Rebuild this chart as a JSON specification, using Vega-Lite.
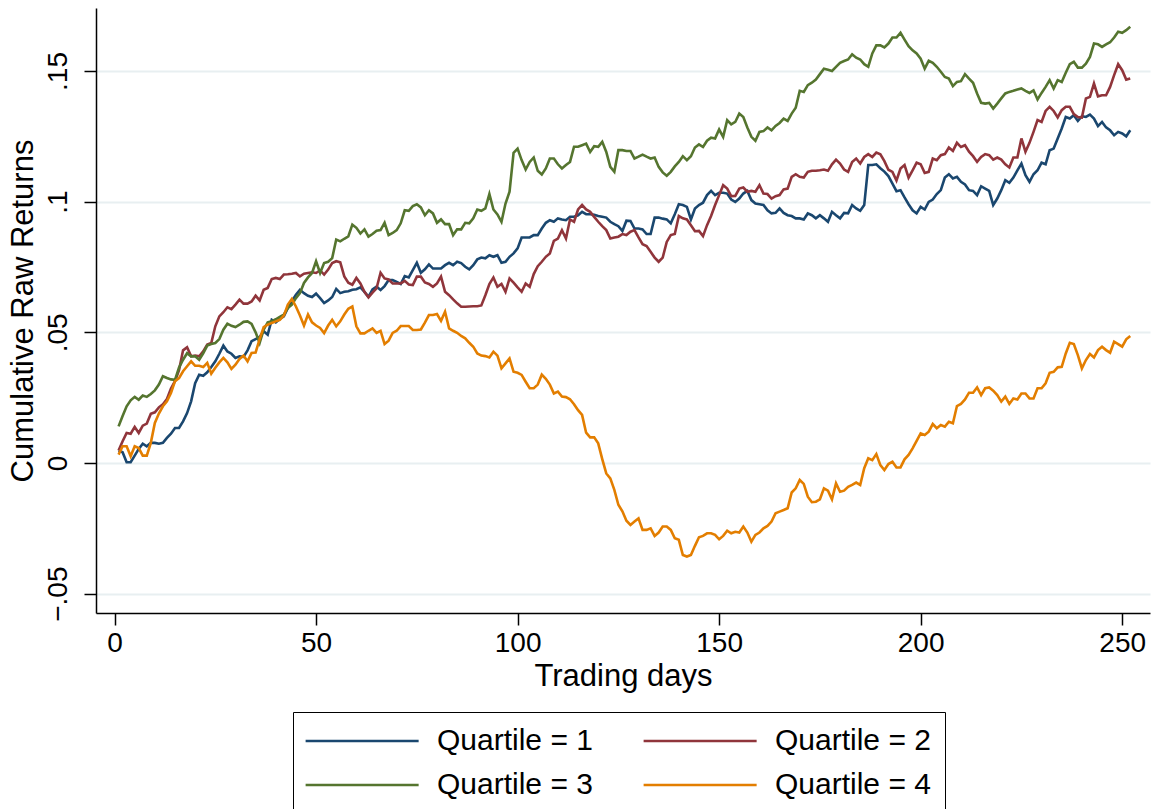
{
"$schema":"https://vega.github.io/schema/vega-lite/v6.json",
"width":1054,"height":605,
"autosize":{"type":"none"},
"padding":{"left":96,"top":8,"right":6,"bottom":196},
"background":"white",
"config":{"view":{"stroke":null},"font":"Liberation Sans"},
"data":{"values":[
{"d":1,"q1":0.0048,"q2":0.0048,"q3":0.014,"q4":0.0032},
{"d":2,"q1":0.0041,"q2":0.0083,"q3":0.018,"q4":0.0064},
{"d":3,"q1":0.0003,"q2":0.0115,"q3":0.0217,"q4":0.0064},
{"d":4,"q1":0.0003,"q2":0.0112,"q3":0.024,"q4":0.0026},
{"d":5,"q1":0.0028,"q2":0.0138,"q3":0.0253,"q4":0.0064},
{"d":6,"q1":0.0054,"q2":0.0115,"q3":0.0242,"q4":0.0057},
{"d":7,"q1":0.0074,"q2":0.0143,"q3":0.0258,"q4":0.0028},
{"d":8,"q1":0.0064,"q2":0.0151,"q3":0.0253,"q4":0.0028},
{"d":9,"q1":0.0077,"q2":0.0188,"q3":0.0264,"q4":0.0077},
{"d":10,"q1":0.0077,"q2":0.0194,"q3":0.0278,"q4":0.0153},
{"d":11,"q1":0.0074,"q2":0.0213,"q3":0.03,"q4":0.0189},
{"d":12,"q1":0.0077,"q2":0.0225,"q3":0.0332,"q4":0.0217},
{"d":13,"q1":0.0096,"q2":0.0245,"q3":0.0325,"q4":0.0236},
{"d":14,"q1":0.0112,"q2":0.0285,"q3":0.032,"q4":0.0268},
{"d":15,"q1":0.0134,"q2":0.0313,"q3":0.0318,"q4":0.0313},
{"d":16,"q1":0.0134,"q2":0.0355,"q3":0.0365,"q4":0.0325},
{"d":17,"q1":0.0159,"q2":0.0431,"q3":0.0395,"q4":0.0351},
{"d":18,"q1":0.0191,"q2":0.0443,"q3":0.042,"q4":0.037},
{"d":19,"q1":0.0236,"q2":0.0408,"q3":0.0408,"q4":0.0389},
{"d":20,"q1":0.0305,"q2":0.0411,"q3":0.0408,"q4":0.0372},
{"d":21,"q1":0.0338,"q2":0.0408,"q3":0.0395,"q4":0.0372},
{"d":22,"q1":0.0334,"q2":0.0427,"q3":0.042,"q4":0.0367},
{"d":23,"q1":0.0347,"q2":0.0453,"q3":0.0449,"q4":0.0383},
{"d":24,"q1":0.0367,"q2":0.0459,"q3":0.0455,"q4":0.0342},
{"d":25,"q1":0.0389,"q2":0.0523,"q3":0.0459,"q4":0.0364},
{"d":26,"q1":0.0418,"q2":0.0561,"q3":0.0474,"q4":0.0385},
{"d":27,"q1":0.0449,"q2":0.0577,"q3":0.051,"q4":0.0402},
{"d":28,"q1":0.0427,"q2":0.0596,"q3":0.0533,"q4":0.0385},
{"d":29,"q1":0.0418,"q2":0.0589,"q3":0.0525,"q4":0.036},
{"d":30,"q1":0.0402,"q2":0.0606,"q3":0.052,"q4":0.0376},
{"d":31,"q1":0.0408,"q2":0.0625,"q3":0.0529,"q4":0.0398},
{"d":32,"q1":0.0406,"q2":0.061,"q3":0.054,"q4":0.0411},
{"d":33,"q1":0.0431,"q2":0.061,"q3":0.0542,"q4":0.0389},
{"d":34,"q1":0.0466,"q2":0.0618,"q3":0.0532,"q4":0.0421},
{"d":35,"q1":0.0474,"q2":0.064,"q3":0.05,"q4":0.0423},
{"d":36,"q1":0.0482,"q2":0.0622,"q3":0.0459,"q4":0.0474},
{"d":37,"q1":0.0504,"q2":0.0663,"q3":0.051,"q4":0.052},
{"d":38,"q1":0.0491,"q2":0.067,"q3":0.0538,"q4":0.0529},
{"d":39,"q1":0.0548,"q2":0.0704,"q3":0.0542,"q4":0.0536},
{"d":40,"q1":0.0538,"q2":0.0708,"q3":0.055,"q4":0.0542},
{"d":41,"q1":0.0551,"q2":0.0704,"q3":0.0559,"q4":0.0548},
{"d":42,"q1":0.0561,"q2":0.0721,"q3":0.0568,"q4":0.0564},
{"d":43,"q1":0.0593,"q2":0.0722,"q3":0.0593,"q4":0.0606},
{"d":44,"q1":0.0619,"q2":0.0724,"q3":0.0606,"q4":0.0628},
{"d":45,"q1":0.0644,"q2":0.0727,"q3":0.0631,"q4":0.0599},
{"d":46,"q1":0.0663,"q2":0.0714,"q3":0.065,"q4":0.0564},
{"d":47,"q1":0.065,"q2":0.0724,"q3":0.0689,"q4":0.0526},
{"d":48,"q1":0.064,"q2":0.0727,"q3":0.071,"q4":0.0568},
{"d":49,"q1":0.0635,"q2":0.073,"q3":0.0727,"q4":0.0538},
{"d":50,"q1":0.0648,"q2":0.0727,"q3":0.0772,"q4":0.0526},
{"d":51,"q1":0.0631,"q2":0.0737,"q3":0.0727,"q4":0.0517},
{"d":52,"q1":0.0612,"q2":0.0721,"q3":0.0765,"q4":0.0497},
{"d":53,"q1":0.0622,"q2":0.074,"q3":0.077,"q4":0.0526},
{"d":54,"q1":0.0635,"q2":0.0765,"q3":0.0784,"q4":0.0548},
{"d":55,"q1":0.0666,"q2":0.0772,"q3":0.0855,"q4":0.0523},
{"d":56,"q1":0.065,"q2":0.0768,"q3":0.0848,"q4":0.0542},
{"d":57,"q1":0.0655,"q2":0.0714,"q3":0.0858,"q4":0.0568},
{"d":58,"q1":0.0657,"q2":0.069,"q3":0.0867,"q4":0.059},
{"d":59,"q1":0.0663,"q2":0.0682,"q3":0.0912,"q4":0.0599},
{"d":60,"q1":0.0665,"q2":0.0708,"q3":0.09,"q4":0.0523},
{"d":61,"q1":0.0672,"q2":0.0687,"q3":0.0878,"q4":0.0496},
{"d":62,"q1":0.0655,"q2":0.0655,"q3":0.0894,"q4":0.0496},
{"d":63,"q1":0.0636,"q2":0.0634,"q3":0.0866,"q4":0.0506},
{"d":64,"q1":0.0664,"q2":0.0652,"q3":0.0876,"q4":0.0515},
{"d":65,"q1":0.0675,"q2":0.0668,"q3":0.0889,"q4":0.0498},
{"d":66,"q1":0.0662,"q2":0.0728,"q3":0.0891,"q4":0.0506},
{"d":67,"q1":0.0677,"q2":0.0706,"q3":0.0919,"q4":0.0455},
{"d":68,"q1":0.07,"q2":0.0702,"q3":0.0872,"q4":0.0468},
{"d":69,"q1":0.07,"q2":0.0687,"q3":0.088,"q4":0.0498},
{"d":70,"q1":0.0693,"q2":0.0687,"q3":0.0891,"q4":0.0506},
{"d":71,"q1":0.0685,"q2":0.0687,"q3":0.0917,"q4":0.0524},
{"d":72,"q1":0.0715,"q2":0.0697,"q3":0.0967,"q4":0.0524},
{"d":73,"q1":0.071,"q2":0.0683,"q3":0.0965,"q4":0.0524},
{"d":74,"q1":0.0738,"q2":0.0681,"q3":0.0983,"q4":0.0509},
{"d":75,"q1":0.0766,"q2":0.0713,"q3":0.099,"q4":0.0509},
{"d":76,"q1":0.0728,"q2":0.0713,"q3":0.0978,"q4":0.0511},
{"d":77,"q1":0.0741,"q2":0.0691,"q3":0.0948,"q4":0.0537},
{"d":78,"q1":0.076,"q2":0.0685,"q3":0.0967,"q4":0.0566},
{"d":79,"q1":0.0744,"q2":0.0674,"q3":0.0955,"q4":0.0566},
{"d":80,"q1":0.0744,"q2":0.0687,"q3":0.0919,"q4":0.057},
{"d":81,"q1":0.0744,"q2":0.0713,"q3":0.0932,"q4":0.0544},
{"d":82,"q1":0.0757,"q2":0.0655,"q3":0.0914,"q4":0.0579},
{"d":83,"q1":0.0766,"q2":0.0642,"q3":0.0914,"q4":0.0515},
{"d":84,"q1":0.0757,"q2":0.0626,"q3":0.0872,"q4":0.0506},
{"d":85,"q1":0.077,"q2":0.0611,"q3":0.0894,"q4":0.0498},
{"d":86,"q1":0.0765,"q2":0.0598,"q3":0.0894,"q4":0.0486},
{"d":87,"q1":0.0751,"q2":0.0598,"q3":0.0919,"q4":0.0477},
{"d":88,"q1":0.0741,"q2":0.0599,"q3":0.0917,"q4":0.046},
{"d":89,"q1":0.0757,"q2":0.06,"q3":0.0936,"q4":0.0445},
{"d":90,"q1":0.0779,"q2":0.06,"q3":0.097,"q4":0.0419},
{"d":91,"q1":0.0786,"q2":0.0603,"q3":0.0965,"q4":0.0411},
{"d":92,"q1":0.0783,"q2":0.0642,"q3":0.0974,"q4":0.0409},
{"d":93,"q1":0.0795,"q2":0.0685,"q3":0.1029,"q4":0.0404},
{"d":94,"q1":0.0789,"q2":0.071,"q3":0.097,"q4":0.0426},
{"d":95,"q1":0.0795,"q2":0.0674,"q3":0.0951,"q4":0.0411},
{"d":96,"q1":0.0766,"q2":0.0685,"q3":0.0923,"q4":0.0362},
{"d":97,"q1":0.077,"q2":0.0655,"q3":0.0993,"q4":0.0381},
{"d":98,"q1":0.0789,"q2":0.0706,"q3":0.1038,"q4":0.04},
{"d":99,"q1":0.0802,"q2":0.069,"q3":0.1187,"q4":0.0349},
{"d":100,"q1":0.0821,"q2":0.0672,"q3":0.1203,"q4":0.0345},
{"d":101,"q1":0.0863,"q2":0.0655,"q3":0.1159,"q4":0.0337},
{"d":102,"q1":0.0863,"q2":0.0687,"q3":0.1123,"q4":0.0311},
{"d":103,"q1":0.0863,"q2":0.0674,"q3":0.1152,"q4":0.0286},
{"d":104,"q1":0.0872,"q2":0.0723,"q3":0.1169,"q4":0.0286},
{"d":105,"q1":0.0872,"q2":0.0753,"q3":0.1118,"q4":0.03},
{"d":106,"q1":0.0897,"q2":0.077,"q3":0.1104,"q4":0.0338},
{"d":107,"q1":0.0919,"q2":0.0789,"q3":0.1127,"q4":0.0322},
{"d":108,"q1":0.0929,"q2":0.0802,"q3":0.1165,"q4":0.03},
{"d":109,"q1":0.0923,"q2":0.085,"q3":0.1165,"q4":0.0266},
{"d":110,"q1":0.0936,"q2":0.0859,"q3":0.1143,"q4":0.0273},
{"d":111,"q1":0.0932,"q2":0.0891,"q3":0.1127,"q4":0.0254},
{"d":112,"q1":0.0929,"q2":0.0859,"q3":0.114,"q4":0.0252},
{"d":113,"q1":0.0942,"q2":0.0932,"q3":0.1152,"q4":0.0244},
{"d":114,"q1":0.0942,"q2":0.0923,"q3":0.121,"q4":0.0225},
{"d":115,"q1":0.0948,"q2":0.097,"q3":0.121,"q4":0.0202},
{"d":116,"q1":0.0961,"q2":0.0987,"q3":0.1216,"q4":0.0184},
{"d":117,"q1":0.0952,"q2":0.097,"q3":0.1222,"q4":0.0116},
{"d":118,"q1":0.0952,"q2":0.0961,"q3":0.119,"q4":0.0098},
{"d":119,"q1":0.095,"q2":0.0942,"q3":0.1212,"q4":0.0098},
{"d":120,"q1":0.0945,"q2":0.0923,"q3":0.121,"q4":0.0075},
{"d":121,"q1":0.0942,"q2":0.0906,"q3":0.1229,"q4":0.0015},
{"d":122,"q1":0.0939,"q2":0.0891,"q3":0.119,"q4":-0.004},
{"d":123,"q1":0.0923,"q2":0.0859,"q3":0.1133,"q4":-0.0059},
{"d":124,"q1":0.0914,"q2":0.0863,"q3":0.1114,"q4":-0.0103},
{"d":125,"q1":0.0906,"q2":0.0866,"q3":0.1197,"q4":-0.016},
{"d":126,"q1":0.0888,"q2":0.0876,"q3":0.1197,"q4":-0.0185},
{"d":127,"q1":0.0927,"q2":0.0872,"q3":0.1194,"q4":-0.0221},
{"d":128,"q1":0.0926,"q2":0.0885,"q3":0.1194,"q4":-0.0237},
{"d":129,"q1":0.0897,"q2":0.0891,"q3":0.1165,"q4":-0.0224},
{"d":130,"q1":0.0897,"q2":0.0863,"q3":0.1172,"q4":-0.0212},
{"d":131,"q1":0.0894,"q2":0.0837,"q3":0.118,"q4":-0.0256},
{"d":132,"q1":0.0876,"q2":0.083,"q3":0.1172,"q4":-0.0256},
{"d":133,"q1":0.0876,"q2":0.0808,"q3":0.1165,"q4":-0.025},
{"d":134,"q1":0.0939,"q2":0.0786,"q3":0.1169,"q4":-0.0279},
{"d":135,"q1":0.0939,"q2":0.077,"q3":0.1133,"q4":-0.0266},
{"d":136,"q1":0.0935,"q2":0.0786,"q3":0.1112,"q4":-0.0243},
{"d":137,"q1":0.0932,"q2":0.0846,"q3":0.1099,"q4":-0.0243},
{"d":138,"q1":0.0917,"q2":0.0872,"q3":0.1114,"q4":-0.0256},
{"d":139,"q1":0.0952,"q2":0.0876,"q3":0.1135,"q4":-0.0288},
{"d":140,"q1":0.099,"q2":0.0945,"q3":0.1152,"q4":-0.0294},
{"d":141,"q1":0.0987,"q2":0.0936,"q3":0.1174,"q4":-0.0352},
{"d":142,"q1":0.098,"q2":0.0932,"q3":0.1159,"q4":-0.0358},
{"d":143,"q1":0.0932,"q2":0.091,"q3":0.1174,"q4":-0.0352},
{"d":144,"q1":0.0974,"q2":0.0887,"q3":0.1207,"q4":-0.0317},
{"d":145,"q1":0.0987,"q2":0.0888,"q3":0.1219,"q4":-0.0284},
{"d":146,"q1":0.0996,"q2":0.0868,"q3":0.1209,"q4":-0.0279},
{"d":147,"q1":0.1025,"q2":0.091,"q3":0.1233,"q4":-0.0269},
{"d":148,"q1":0.1041,"q2":0.0945,"q3":0.1245,"q4":-0.0269},
{"d":149,"q1":0.1025,"q2":0.0987,"q3":0.1242,"q4":-0.0275},
{"d":150,"q1":0.1034,"q2":0.1025,"q3":0.1276,"q4":-0.0292},
{"d":151,"q1":0.1034,"q2":0.1063,"q3":0.1248,"q4":-0.0279},
{"d":152,"q1":0.1031,"q2":0.105,"q3":0.1312,"q4":-0.0259},
{"d":153,"q1":0.1008,"q2":0.1021,"q3":0.1296,"q4":-0.0269},
{"d":154,"q1":0.0999,"q2":0.1022,"q3":0.1305,"q4":-0.0263},
{"d":155,"q1":0.1012,"q2":0.105,"q3":0.1337,"q4":-0.0266},
{"d":156,"q1":0.1031,"q2":0.1054,"q3":0.1324,"q4":-0.0243},
{"d":157,"q1":0.1041,"q2":0.1038,"q3":0.1284,"q4":-0.0266},
{"d":158,"q1":0.1006,"q2":0.1041,"q3":0.1248,"q4":-0.0301},
{"d":159,"q1":0.0993,"q2":0.1038,"q3":0.1233,"q4":-0.0275},
{"d":160,"q1":0.099,"q2":0.1063,"q3":0.1267,"q4":-0.0266},
{"d":161,"q1":0.0987,"q2":0.1031,"q3":0.127,"q4":-0.025},
{"d":162,"q1":0.0967,"q2":0.1029,"q3":0.1284,"q4":-0.0241},
{"d":163,"q1":0.0955,"q2":0.1012,"q3":0.1273,"q4":-0.0224},
{"d":164,"q1":0.0957,"q2":0.1021,"q3":0.129,"q4":-0.0192},
{"d":165,"q1":0.0974,"q2":0.1025,"q3":0.1301,"q4":-0.0186},
{"d":166,"q1":0.0957,"q2":0.1047,"q3":0.1318,"q4":-0.018},
{"d":167,"q1":0.0948,"q2":0.105,"q3":0.1309,"q4":-0.0173},
{"d":168,"q1":0.0945,"q2":0.1095,"q3":0.1337,"q4":-0.0113},
{"d":169,"q1":0.0936,"q2":0.1105,"q3":0.1359,"q4":-0.0097},
{"d":170,"q1":0.0936,"q2":0.1095,"q3":0.1424,"q4":-0.0065},
{"d":171,"q1":0.0932,"q2":0.1092,"q3":0.142,"q4":-0.008},
{"d":172,"q1":0.0955,"q2":0.1114,"q3":0.1446,"q4":-0.0129},
{"d":173,"q1":0.0948,"q2":0.1118,"q3":0.1455,"q4":-0.015},
{"d":174,"q1":0.0936,"q2":0.1118,"q3":0.1467,"q4":-0.0148},
{"d":175,"q1":0.0948,"q2":0.112,"q3":0.1488,"q4":-0.0139},
{"d":176,"q1":0.0936,"q2":0.1123,"q3":0.1509,"q4":-0.0097},
{"d":177,"q1":0.0923,"q2":0.1118,"q3":0.1505,"q4":-0.0106},
{"d":178,"q1":0.0961,"q2":0.1143,"q3":0.15,"q4":-0.0139},
{"d":179,"q1":0.0948,"q2":0.1161,"q3":0.1516,"q4":-0.0078},
{"d":180,"q1":0.0936,"q2":0.1146,"q3":0.1531,"q4":-0.011},
{"d":181,"q1":0.0957,"q2":0.1123,"q3":0.1538,"q4":-0.0106},
{"d":182,"q1":0.0955,"q2":0.1114,"q3":0.1544,"q4":-0.0091},
{"d":183,"q1":0.0987,"q2":0.1152,"q3":0.1564,"q4":-0.0084},
{"d":184,"q1":0.0974,"q2":0.1165,"q3":0.1551,"q4":-0.0075},
{"d":185,"q1":0.0965,"q2":0.1146,"q3":0.1544,"q4":-0.0084},
{"d":186,"q1":0.0987,"q2":0.1171,"q3":0.1526,"q4":-0.002},
{"d":187,"q1":0.114,"q2":0.1182,"q3":0.1516,"q4":0.0018},
{"d":188,"q1":0.114,"q2":0.1171,"q3":0.1567,"q4":0.0011},
{"d":189,"q1":0.1143,"q2":0.1188,"q3":0.1598,"q4":0.0034},
{"d":190,"q1":0.1128,"q2":0.1181,"q3":0.1598,"q4":-0.0008},
{"d":191,"q1":0.1115,"q2":0.1155,"q3":0.159,"q4":-0.0027},
{"d":192,"q1":0.1098,"q2":0.1122,"q3":0.1605,"q4":-0.0004},
{"d":193,"q1":0.1069,"q2":0.1114,"q3":0.1628,"q4":0.0005},
{"d":194,"q1":0.104,"q2":0.1081,"q3":0.1628,"q4":-0.0017},
{"d":195,"q1":0.1044,"q2":0.1127,"q3":0.1646,"q4":-0.0017},
{"d":196,"q1":0.1016,"q2":0.114,"q3":0.162,"q4":0.0014},
{"d":197,"q1":0.099,"q2":0.1092,"q3":0.1595,"q4":0.0031},
{"d":198,"q1":0.0967,"q2":0.112,"q3":0.1579,"q4":0.0056},
{"d":199,"q1":0.0955,"q2":0.1149,"q3":0.1567,"q4":0.0085},
{"d":200,"q1":0.098,"q2":0.1143,"q3":0.1547,"q4":0.0113},
{"d":201,"q1":0.097,"q2":0.111,"q3":0.1509,"q4":0.0107},
{"d":202,"q1":0.0999,"q2":0.1114,"q3":0.1539,"q4":0.012},
{"d":203,"q1":0.1008,"q2":0.1165,"q3":0.1531,"q4":0.0149},
{"d":204,"q1":0.1029,"q2":0.1159,"q3":0.1516,"q4":0.0133},
{"d":205,"q1":0.1044,"q2":0.1178,"q3":0.1497,"q4":0.0145},
{"d":206,"q1":0.1092,"q2":0.1182,"q3":0.1477,"q4":0.0139},
{"d":207,"q1":0.1105,"q2":0.1207,"q3":0.1471,"q4":0.0158},
{"d":208,"q1":0.1089,"q2":0.1194,"q3":0.1442,"q4":0.0152},
{"d":209,"q1":0.1095,"q2":0.1225,"q3":0.1458,"q4":0.0218},
{"d":210,"q1":0.1076,"q2":0.1209,"q3":0.1461,"q4":0.0226},
{"d":211,"q1":0.1066,"q2":0.1216,"q3":0.1488,"q4":0.0243},
{"d":212,"q1":0.1044,"q2":0.1191,"q3":0.1471,"q4":0.0269},
{"d":213,"q1":0.1041,"q2":0.1174,"q3":0.1455,"q4":0.0269},
{"d":214,"q1":0.1025,"q2":0.1152,"q3":0.1414,"q4":0.0289},
{"d":215,"q1":0.1059,"q2":0.1171,"q3":0.1378,"q4":0.026},
{"d":216,"q1":0.105,"q2":0.1182,"q3":0.1375,"q4":0.0286},
{"d":217,"q1":0.1041,"q2":0.1178,"q3":0.1378,"q4":0.0289},
{"d":218,"q1":0.0987,"q2":0.1161,"q3":0.1356,"q4":0.0277},
{"d":219,"q1":0.1012,"q2":0.1169,"q3":0.1375,"q4":0.026},
{"d":220,"q1":0.1044,"q2":0.1161,"q3":0.1395,"q4":0.0235},
{"d":221,"q1":0.1082,"q2":0.1143,"q3":0.1414,"q4":0.0254},
{"d":222,"q1":0.1072,"q2":0.1131,"q3":0.142,"q4":0.0226},
{"d":223,"q1":0.1092,"q2":0.1169,"q3":0.1424,"q4":0.0247},
{"d":224,"q1":0.112,"q2":0.1169,"q3":0.1429,"q4":0.0243},
{"d":225,"q1":0.1146,"q2":0.1242,"q3":0.1433,"q4":0.0266},
{"d":226,"q1":0.1101,"q2":0.1191,"q3":0.1424,"q4":0.0266},
{"d":227,"q1":0.1076,"q2":0.1225,"q3":0.1416,"q4":0.0247},
{"d":228,"q1":0.1105,"q2":0.1267,"q3":0.1426,"q4":0.0247},
{"d":229,"q1":0.112,"q2":0.1312,"q3":0.1391,"q4":0.0286},
{"d":230,"q1":0.1149,"q2":0.1305,"q3":0.1416,"q4":0.0286},
{"d":231,"q1":0.1143,"q2":0.1347,"q3":0.1439,"q4":0.0305},
{"d":232,"q1":0.1197,"q2":0.1363,"q3":0.1465,"q4":0.0345},
{"d":233,"q1":0.1203,"q2":0.1347,"q3":0.1433,"q4":0.0349},
{"d":234,"q1":0.1242,"q2":0.1322,"q3":0.1465,"q4":0.0366},
{"d":235,"q1":0.128,"q2":0.135,"q3":0.1458,"q4":0.0368},
{"d":236,"q1":0.1324,"q2":0.1363,"q3":0.1493,"q4":0.0419},
{"d":237,"q1":0.1318,"q2":0.1363,"q3":0.1526,"q4":0.046},
{"d":238,"q1":0.1331,"q2":0.1335,"q3":0.1535,"q4":0.0455},
{"d":239,"q1":0.1309,"q2":0.1324,"q3":0.1513,"q4":0.0413},
{"d":240,"q1":0.1327,"q2":0.1322,"q3":0.1513,"q4":0.0362},
{"d":241,"q1":0.1324,"q2":0.1395,"q3":0.1528,"q4":0.0394},
{"d":242,"q1":0.1333,"q2":0.1401,"q3":0.1554,"q4":0.0417},
{"d":243,"q1":0.1318,"q2":0.1452,"q3":0.1605,"q4":0.0404},
{"d":244,"q1":0.1289,"q2":0.1403,"q3":0.1602,"q4":0.0432},
{"d":245,"q1":0.1305,"q2":0.1407,"q3":0.1592,"q4":0.0445},
{"d":246,"q1":0.1284,"q2":0.1407,"q3":0.1602,"q4":0.0432},
{"d":247,"q1":0.1273,"q2":0.1439,"q3":0.161,"q4":0.0422},
{"d":248,"q1":0.1254,"q2":0.1484,"q3":0.1628,"q4":0.0464},
{"d":249,"q1":0.1267,"q2":0.1526,"q3":0.165,"q4":0.0455},
{"d":250,"q1":0.1261,"q2":0.1503,"q3":0.1646,"q4":0.0445},
{"d":251,"q1":0.125,"q2":0.1467,"q3":0.1656,"q4":0.0473},
{"d":252,"q1":0.1273,"q2":0.1471,"q3":0.1669,"q4":0.0486}
]},
"transform":[{"fold":["q1","q2","q3","q4"],"as":["q","v"]}],
"mark":{"type":"line","strokeWidth":2.6,"clip":true},
"encoding":{
"x":{"field":"d","type":"quantitative","scale":{"domain":[-4.6,256.9],"nice":false,"zero":false},
"axis":{"values":[0,50,100,150,200,250],"title":"Trading days","grid":false,"domainColor":"black","domainWidth":1.5,"tickColor":"black","tickWidth":1.5,"tickSize":12,"labelFontSize":28,"labelColor":"black","labelPadding":4,"titleFontSize":31,"titleFontWeight":"normal","titleColor":"black","titlePadding":4,"labelFlush":false}},
"y":{"field":"v","type":"quantitative","scale":{"domain":[-0.0574,0.1741],"nice":false,"zero":false},
"axis":{"values":[-0.05,0,0.05,0.1,0.15],"labelExpr":"datum.value == 0 ? '0' : replace(format(datum.value, '.2~f'), '0.', '.')","labelAngle":-90,"labelAlign":"center","labelBaseline":"bottom","title":"Cumulative Raw Returns","grid":true,"gridColor":"#e8eff1","gridWidth":2,"domainColor":"black","domainWidth":1.5,"tickColor":"black","tickWidth":1.5,"tickSize":12,"labelFontSize":28,"labelColor":"black","labelPadding":12,"titleFontSize":31,"titleFontWeight":"normal","titleColor":"black","titlePadding":5,"labelFlush":false}},
"color":{"field":"q","type":"nominal","scale":{"domain":["q1","q2","q3","q4"],"range":["#1a476f","#90353b","#55752f","#e37e00"]},
"legend":{"orient":"none","legendX":197,"legendY":704,"title":null,"columns":2,"direction":"horizontal","symbolType":"M-1.45,0H8.55","symbolSize":511,"symbolStrokeWidth":2.6,"labelFontSize":30,"labelColor":"black","labelOffset":100,"columnPadding":45,"rowPadding":14,"padding":14,"strokeColor":"black","fillColor":"white","labelExpr":"'Quartile = ' + slice(datum.label, 1)"}}
}
}
